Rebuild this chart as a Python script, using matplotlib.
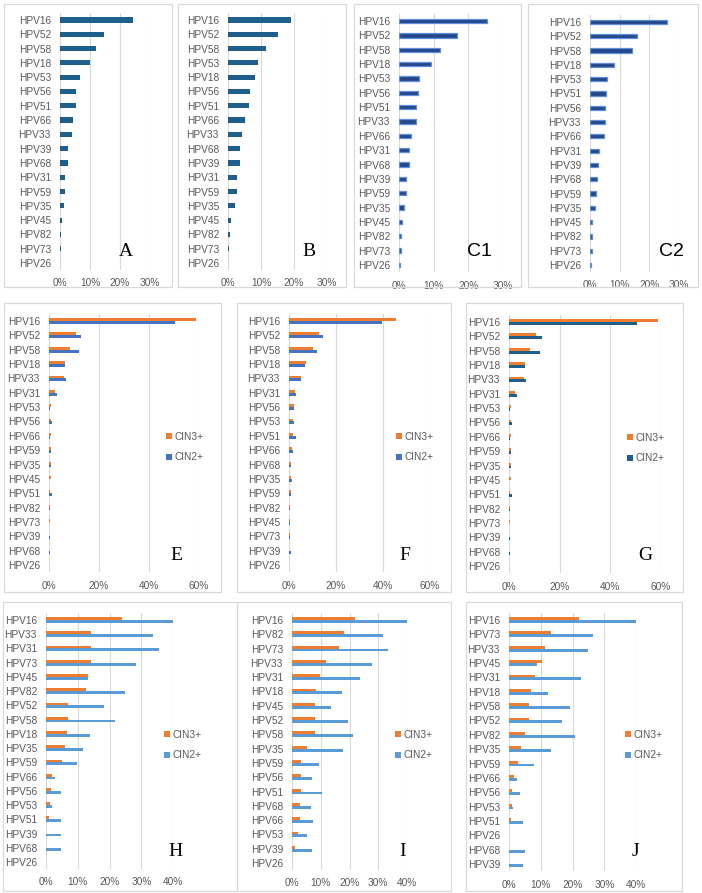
import matplotlib
matplotlib.use("Agg")
import matplotlib.pyplot as plt
from matplotlib.patches import Rectangle
import numpy as np

plt.rcParams['font.family'] = ['Liberation Sans', 'DejaVu Sans']

# ---- data (percent) ----
a_types = ["HPV16", "HPV52", "HPV58", "HPV18", "HPV53", "HPV56", "HPV51", "HPV66", "HPV33",
           "HPV39", "HPV68", "HPV31", "HPV59", "HPV35", "HPV45", "HPV82", "HPV73", "HPV26"]
a_vals = [24.2, 14.8, 11.9, 10.0, 6.8, 5.4, 5.3, 4.3, 4.1, 2.8, 2.6, 1.8, 1.7, 1.4, 0.7, 0.3, 0.2, 0.0]

b_types = ["HPV16", "HPV52", "HPV58", "HPV53", "HPV18", "HPV56", "HPV51", "HPV66", "HPV33",
           "HPV68", "HPV39", "HPV31", "HPV59", "HPV35", "HPV45", "HPV82", "HPV73", "HPV26"]
b_vals = [19.0, 15.0, 11.6, 9.0, 8.3, 6.7, 6.4, 5.1, 4.1, 3.7, 3.6, 2.8, 2.6, 2.1, 0.8, 0.5, 0.4, 0.0]

c1_types = ["HPV16", "HPV52", "HPV58", "HPV18", "HPV53", "HPV56", "HPV51", "HPV33", "HPV66",
            "HPV31", "HPV68", "HPV39", "HPV59", "HPV35", "HPV45", "HPV82", "HPV73", "HPV26"]
c1_vals = [25.4, 16.7, 11.8, 9.1, 5.7, 5.4, 4.8, 4.8, 3.6, 2.8, 2.8, 2.0, 1.9, 1.3, 0.8, 0.6, 0.5, 0.2]

c2_types = ["HPV16", "HPV52", "HPV58", "HPV18", "HPV53", "HPV51", "HPV56", "HPV33", "HPV66",
            "HPV31", "HPV39", "HPV68", "HPV59", "HPV35", "HPV45", "HPV82", "HPV73", "HPV26"]
c2_vals = [25.8, 15.8, 14.2, 8.1, 5.8, 5.4, 5.1, 5.1, 4.6, 3.0, 2.8, 2.5, 2.0, 1.8, 0.8, 0.7, 0.7, 0.3]

e_types = ["HPV16", "HPV52", "HPV58", "HPV18", "HPV33", "HPV31", "HPV53", "HPV56", "HPV66",
           "HPV59", "HPV35", "HPV45", "HPV51", "HPV82", "HPV73", "HPV39", "HPV68", "HPV26"]
e_cin3 = [58.9, 10.7, 8.4, 6.5, 6.1, 2.5, 0.7, 0.8, 0.8, 0.8, 0.8, 0.8, 0.4, 0.4, 0.4, 0.0, 0.0, 0.0]
e_cin2 = [50.5, 12.9, 12.1, 6.4, 6.8, 3.1, 0.5, 1.1, 0.5, 0.7, 0.7, 0.1, 1.1, 0.2, 0.1, 0.5, 0.5, 0.0]

f_types = ["HPV16", "HPV52", "HPV58", "HPV18", "HPV33", "HPV31", "HPV56", "HPV53", "HPV51",
           "HPV66", "HPV68", "HPV35", "HPV59", "HPV82", "HPV45", "HPV73", "HPV39", "HPV26"]
f_cin3 = [45.5, 12.9, 10.1, 7.4, 5.0, 2.4, 2.0, 1.8, 1.8, 1.4, 1.0, 0.9, 0.7, 0.6, 0.4, 0.4, 0.1, 0.0]
f_cin2 = [39.7, 14.3, 11.9, 7.0, 5.2, 2.8, 2.1, 2.1, 3.0, 1.6, 1.0, 1.4, 1.0, 0.6, 0.3, 0.3, 1.0, 0.0]

h_types = ["HPV16", "HPV33", "HPV31", "HPV73", "HPV45", "HPV82", "HPV52", "HPV58", "HPV18",
           "HPV35", "HPV59", "HPV66", "HPV56", "HPV53", "HPV51", "HPV39", "HPV68", "HPV26"]
h_cin3 = [23.8, 14.2, 14.2, 14.2, 13.3, 12.5, 7.0, 7.0, 6.5, 5.9, 5.0, 2.0, 1.5, 1.2, 0.8, 0.0, 0.0, 0.0]
h_cin2 = [44.0, 33.6, 35.7, 28.5, 13.3, 24.9, 18.3, 21.6, 13.8, 11.7, 9.9, 2.9, 4.6, 1.8, 4.7, 4.7, 4.8, 0.0]

i_types = ["HPV16", "HPV82", "HPV73", "HPV33", "HPV31", "HPV18", "HPV45", "HPV52", "HPV58",
           "HPV35", "HPV59", "HPV56", "HPV51", "HPV68", "HPV66", "HPV53", "HPV39", "HPV26"]
i_cin3 = [22.0, 18.0, 16.5, 11.8, 9.7, 8.3, 8.1, 8.0, 8.0, 5.3, 3.2, 3.1, 3.0, 2.9, 2.8, 2.1, 1.2, 0.0]
i_cin2 = [42.4, 31.6, 33.3, 27.8, 23.6, 17.4, 13.7, 19.5, 21.1, 17.6, 9.3, 7.1, 10.5, 6.7, 7.3, 5.2, 6.8, 0.0]

j_types = ["HPV16", "HPV73", "HPV33", "HPV45", "HPV31", "HPV18", "HPV58", "HPV52", "HPV82",
           "HPV35", "HPV59", "HPV66", "HPV56", "HPV53", "HPV51", "HPV26", "HPV68", "HPV39"]
j_cin3 = [21.9, 13.2, 11.3, 10.5, 8.1, 6.8, 6.3, 6.3, 5.1, 3.9, 2.8, 1.5, 0.9, 0.8, 0.5, 0.0, 0.0, 0.0]
j_cin2 = [42.3, 26.6, 24.8, 8.8, 22.6, 12.4, 19.3, 16.6, 20.9, 13.1, 8.0, 2.6, 3.6, 1.4, 4.4, 0.0, 5.0, 4.5]

W, H = 702, 893
fig = plt.figure(figsize=(W / 100, H / 100), dpi=100)
fig.patch.set_facecolor("white")

ORANGE = "#ed7d31"
GRAY = "#595959"


def box(x0, y0, x1, y1):
    fig.add_artist(Rectangle((x0 / W, 1 - y1 / H), (x1 - x0) / W, (y1 - y0) / H,
                             transform=fig.transFigure, fill=False, ec="#d9d9d9", lw=0.9))


def make_ax(x0, x1, yc_top, yc_bot, types, xmax, step):
    n = len(types)
    sp = (yc_bot - yc_top) / (n - 1)
    top, bot = yc_top - sp / 2, yc_bot + sp / 2
    ax = fig.add_axes([x0 / W, 1 - bot / H, (x1 - x0) / W, (bot - top) / H])
    ax.set_xlim(0, xmax)
    ax.set_ylim(n - 0.5, -0.5)
    ticks = np.arange(0, xmax + 0.01, step)
    ax.set_xticks(ticks)
    ax.set_xticklabels([f"{int(t)}%" for t in ticks])
    ax.set_yticks(range(n))
    ax.set_yticklabels(types)
    for s in ax.spines.values():
        s.set_visible(False)
    ax.set_axisbelow(True)
    ax.xaxis.grid(True, color="#d9d9d9", lw=0.8)
    ax.tick_params(length=0, labelsize=7.3, colors=GRAY, pad=6)
    ax.tick_params(axis="y", pad=6.5)
    ax.patch.set_alpha(0)
    return ax


def single(x0, x1, yt, yb, types, vals, color, ec=None, lw=0, h=0.36):
    ax = make_ax(x0, x1, yt, yb, types, 30, 10)
    ax.barh(range(len(types)), vals, height=h, color=color,
            edgecolor=ec if ec else color, linewidth=lw)
    return ax


def double(x0, x1, yt, yb, types, v3, v2, blue, xmax, step, leg_xy):
    ax = make_ax(x0, x1, yt, yb, types, xmax, step)
    y = np.arange(len(types))
    b3 = ax.barh(y - 0.1, v3, height=0.2, color=ORANGE, label="CIN3+")
    b2 = ax.barh(y + 0.1, v2, height=0.2, color=blue, label="CIN2+")
    lx, ly = leg_xy
    ax.legend(handles=[b3, b2], loc="center left", frameon=False,
              bbox_to_anchor=(lx / W, 1 - ly / H), bbox_transform=fig.transFigure,
              fontsize=7.3, labelcolor=GRAY, handlelength=0.55, handleheight=0.55,
              handletextpad=0.3, labelspacing=1.05, borderpad=0, borderaxespad=0)
    return ax


# boxes
box(4, 4, 172, 287)
box(178, 4, 346, 287)
box(354, 4, 521, 287)
box(528, 4, 698, 287)
box(4, 303, 221, 592)
box(237, 303, 451, 592)
box(466, 303, 683, 592)
box(3, 602, 237, 891)
box(237, 602, 451, 891)
box(466, 602, 682, 891)

single(60, 150, 20, 263, a_types, a_vals, "#1f5f8b")
single(228, 327, 20, 263, b_types, b_vals, "#1f5f8b")
single(399, 503, 21, 265, c1_types, c1_vals, "#24468a", ec="#5e8fd8", lw=0.9, h=0.3)
single(590, 679, 22, 265, c2_types, c2_vals, "#24468a", ec="#5e8fd8", lw=0.9, h=0.3)

double(49, 199, 321, 565, e_types, e_cin3, e_cin2, "#4472c4", 60, 20, (166, 447))
double(289, 430, 321, 565, f_types, f_cin3, f_cin2, "#4472c4", 60, 20, (396, 447))
double(509, 661, 322, 566, e_types, e_cin3, e_cin2, "#1f5f8b", 60, 20, (627, 448))
double(46, 173, 620, 862, h_types, h_cin3, h_cin2, "#5b9bd5", 40, 10, (164, 745))
double(292, 407, 620, 863, i_types, i_cin3, i_cin2, "#5b9bd5", 40, 10, (395, 745))
double(509, 636, 620, 864, j_types, j_cin3, j_cin2, "#5b9bd5", 40, 10, (625, 745))

serif = dict(family="Liberation Serif", fontsize=14, color="black", ha="center", va="center")
sans = dict(family="Liberation Sans", fontsize=14, color="black", ha="center", va="center")
for lab, x, y, st in [("A", 126, 252, serif), ("B", 309, 252, serif), ("C1", 479, 251, sans),
                      ("C2", 671, 251, sans), ("E", 176, 555, serif), ("F", 405, 555, serif),
                      ("G", 645, 556, serif), ("H", 176, 852, serif), ("I", 403, 852, serif),
                      ("J", 635, 852, serif)]:
    fig.text(x / W, 1 - y / H, lab, **st)

fig.savefig("out.png", dpi=100)
